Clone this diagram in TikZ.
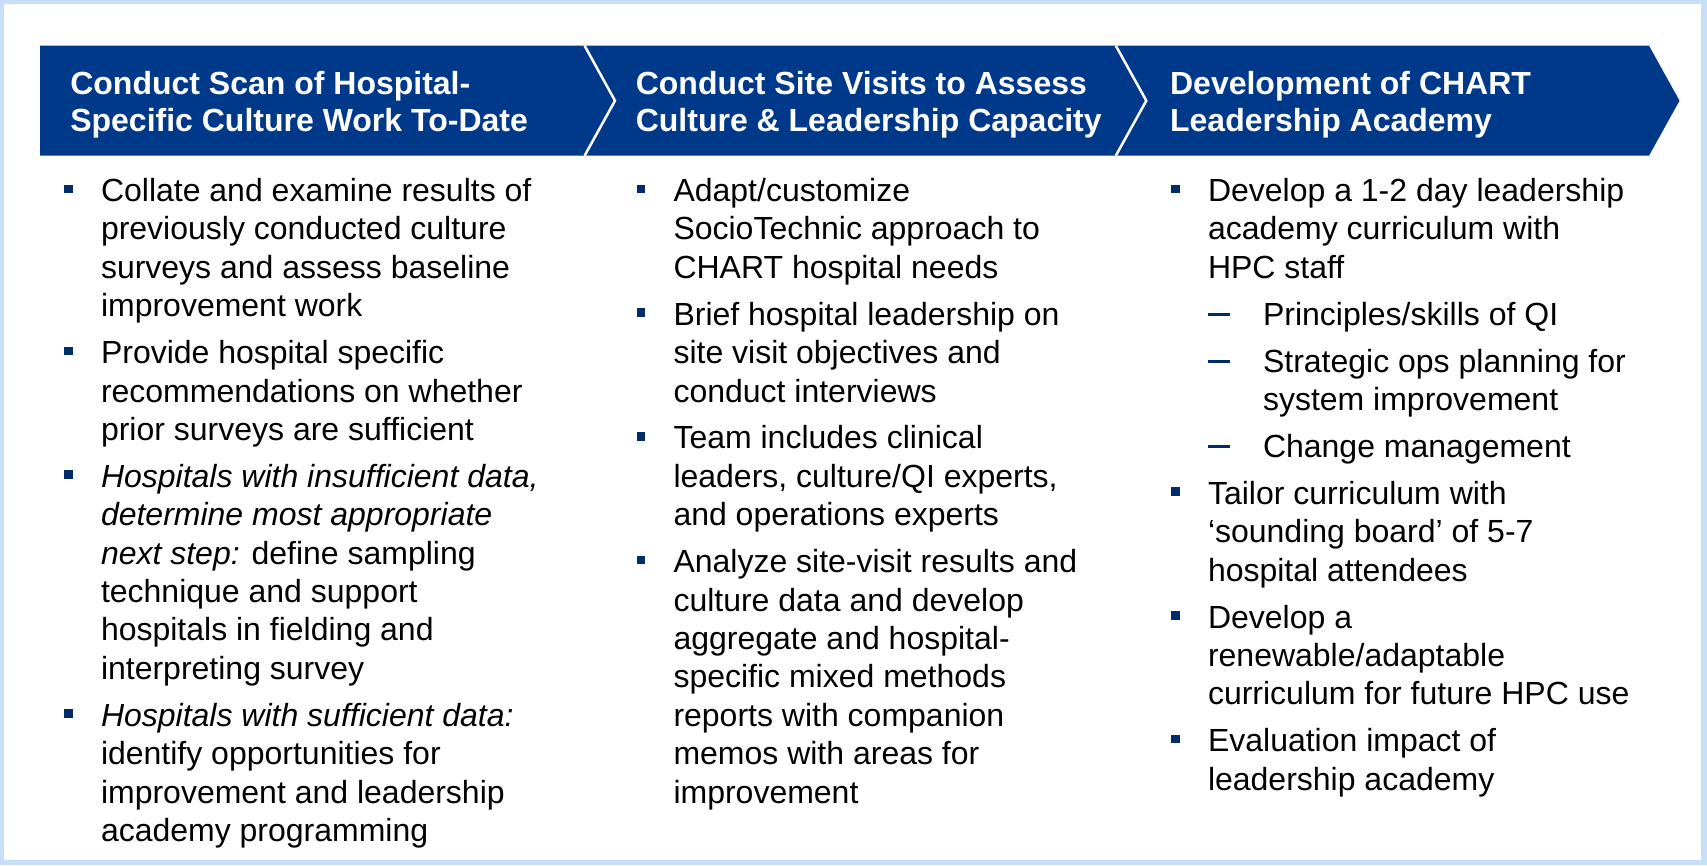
\documentclass[tikz,border=0pt]{standalone}
\usepackage{fontspec}
\setmainfont{Liberation Sans}
\usetikzlibrary{calc}

\definecolor{bandblue}{RGB}{0,57,138}
\definecolor{frameblue}{RGB}{199,222,248}
\definecolor{markblue}{RGB}{0,45,106}

\tikzset{
  stage/.style={anchor=north west, align=left, inner sep=0, outer sep=0,
    text=white, font=\fontsize{32}{36.7}\selectfont\bfseries},
  point/.style={anchor=north west, align=left, inner sep=0, outer sep=0,
    font=\fontsize{32}{38.4}\selectfont},
}

\begin{document}
\begin{tikzpicture}[x=1pt, y=-1pt]
  % Frame
  \fill[frameblue] (0,0) rectangle (1707,865);
  \fill[white] (4,4) rectangle (1701,860);

  % Chevron band
  \fill[bandblue] (40,45.7) -- (1649,45.7) -- (1679.5,100.7) -- (1649,155.7) -- (40,155.7) -- cycle;
  \draw[white, line width=2.5] (584.6,45.7) -- (615,100.7) -- (584.6,155.7);
  \draw[white, line width=2.5] (1115.8,45.7) -- (1146.3,100.7) -- (1115.8,155.7);

  \node[stage] (hd1) at (70.3,68.8) {\strut Conduct Scan of Hospital-\\Specific Culture Work To-Date};
  \node[stage] (hd2) at (635.8,68.8) {\strut Conduct Site Visits to Assess\\Culture \& Leadership Capacity};
  \node[stage] (hd3) at (1170.1,68.8) {\strut Development of CHART\\Leadership Academy};

  % Column 1
  \node[point] (c1a) at (101,174.7) {\strut Collate and examine results of\\previously conducted culture\\surveys and assess baseline\\improvement work};
  \node[point] (c1b) at (101,336.8) {\strut Provide hospital specific\\recommendations on whether\\prior surveys are sufficient};
  \node[point] (c1c) at (101,460.5) {\strut\textit{Hospitals with insufficient data,}\\\textit{determine most appropriate}\\\textit{next step:} define sampling\\technique and support\\hospitals in fielding and\\interpreting survey};
  \node[point] (c1d) at (101,699.4) {\strut\textit{Hospitals with sufficient data:}\\identify opportunities for\\improvement and leadership\\academy programming};

  % Column 2
  \node[point] (c2a) at (673.5,174.7) {\strut Adapt/customize\\SocioTechnic approach to\\CHART hospital needs};
  \node[point] (c2b) at (673.5,298.4) {\strut Brief hospital leadership on\\site visit objectives and\\conduct interviews};
  \node[point] (c2c) at (673.5,422.1) {\strut Team includes clinical\\leaders, culture/QI experts,\\and operations experts};
  \node[point] (c2d) at (673.5,545.8) {\strut Analyze site-visit results and\\culture data and develop\\aggregate and hospital-\\specific mixed methods\\reports with companion\\memos with areas for\\improvement};

  % Column 3
  \node[point] (c3a) at (1208,174.7) {\strut Develop a 1-2 day leadership\\academy curriculum with\\HPC staff};
  \node[point] (s1) at (1263,298.4) {\strut Principles/skills of QI};
  \node[point] (s2) at (1263,345.3) {\strut Strategic ops planning for\\system improvement};
  \node[point] (s3) at (1263,430.6) {\strut Change management};
  \node[point] (c3b) at (1208,477.5) {\strut Tailor curriculum with\\`sounding board' of 5-7\\hospital attendees};
  \node[point] (c3c) at (1208,601.2) {\strut Develop a\\renewable/adaptable\\curriculum for future HPC use};
  \node[point] (c3d) at (1208,724.9) {\strut Evaluation impact of\\leadership academy};

  % Bullets and dashes
  \foreach \n in {c1a,c1b,c1c,c1d,c2a,c2b,c2c,c2d,c3a,c3b,c3c,c3d}
    \fill[markblue] ($(\n.north west)+(-37,9.8)$) rectangle +(8.6,8.6);
  \foreach \n in {s1,s2,s3}
    \draw[markblue, line width=2.7] ($(\n.north west)+(-55,16)$) -- +(21.5,0);
\end{tikzpicture}
\end{document}
